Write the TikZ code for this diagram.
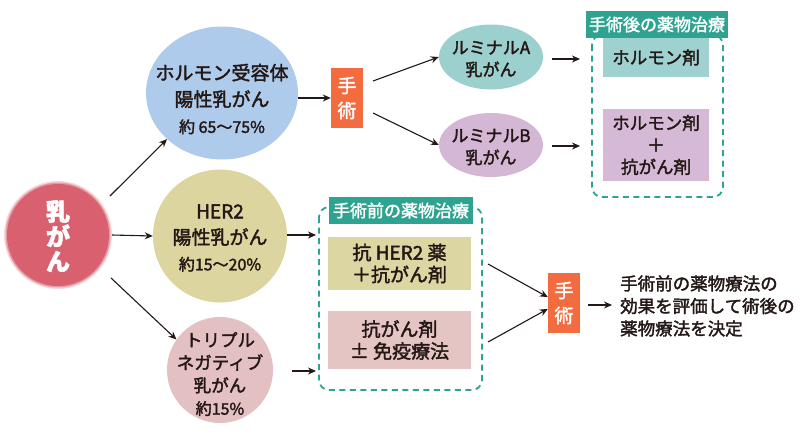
\documentclass[tikz,border=0pt]{standalone}
\usepackage{fontspec}
\setmainfont{Noto Sans CJK JP}[FakeBold=2]
\usetikzlibrary{arrows.meta,shapes.geometric}
\definecolor{ink}{HTML}{231815}
\definecolor{cred}{HTML}{D9606F}
\definecolor{cblue}{HTML}{AFCBEB}
\definecolor{ckhaki}{HTML}{DCD5A0}
\definecolor{cpink}{HTML}{E3C0C1}
\definecolor{clumA}{HTML}{9CD0CF}
\definecolor{clumB}{HTML}{D4B6D5}
\definecolor{corange}{HTML}{F26C3F}
\definecolor{cteal}{HTML}{2FA391}
\definecolor{bkhaki}{HTML}{DCD6A3}
\definecolor{bpink}{HTML}{E5C4C4}
\definecolor{bteal}{HTML}{9FD1D0}
\definecolor{bpurple}{HTML}{D6B9D7}
\tikzset{
  ell/.style={ellipse, inner sep=0pt},
  txt/.style={align=center, text=ink, inner sep=0pt},
  opbox/.style={fill=corange, text=white, align=center, minimum width=32pt, inner sep=0pt, font=\fontsize{19}{25}\selectfont},
  rbox/.style={rectangle, inner sep=0pt, align=center, text=ink},
  lbl/.style={fill=cteal, text=white, inner sep=0pt, font=\fontsize{17}{20}\selectfont},
  dbox/.style={draw=cteal, line width=1.8pt, dash pattern=on 6pt off 4.5pt, rounded corners=10pt},
  arr/.style={draw=ink, line width=1.1pt, -{Stealth[length=8pt,width=7pt]}},
}
\begin{document}
\begin{tikzpicture}[x=1pt,y=-1pt]
\useasboundingbox (0,0) rectangle (800,442);
\fill[white] (0,0) rectangle (800,442);

% 乳がん with soft edge
\fill[cred, opacity=0.25] (58,235) circle (54);
\fill[cred, opacity=0.5] (58,235) circle (52.5);
\node[circle, fill=cred, minimum size=102pt, inner sep=0pt] (bc) at (58,235) {};
\node[txt, text=white, font=\fontsize{24}{25}\selectfont\bfseries] (bct) at (58,236) {乳\\が\\ん};

% three subtype circles
\node[ell, fill=cblue, minimum width=152pt, minimum height=133pt] (hr) at (222,93) {};
\node[txt, font=\fontsize{19}{26.5}\selectfont] (hrt) at (222,99) {ホルモン受容体\\陽性乳がん\\{\fontsize{16}{26.5}\selectfont 約 65〜75\%}};

\node[ell, fill=ckhaki, minimum width=134pt, minimum height=133pt] (her) at (220,236) {};
\node[txt, font=\fontsize{19}{26}\selectfont] (hert) at (220,238) {HER2\\陽性乳がん\\{\fontsize{16}{24}\selectfont 約15〜20\%}};

\node[circle, fill=cpink, minimum size=106pt, inner sep=0pt] (tn) at (220,370) {};
\node[txt, font=\fontsize{17.5}{22.7}\selectfont] (tnt) at (220,374) {トリプル\\ネガティブ\\乳がん\\{\fontsize{16}{22.7}\selectfont 約15\%}};

% arrows from 乳がん
\coordinate (a1s) at (110,196);
\coordinate (a2s) at (112,235);
\coordinate (a3s) at (111,278);
\draw[arr] (a1s) -- (hr.220);
\draw[arr] (a2s) -- (her.west);
\draw[arr] (a3s) -- (tn.145);

% upper branch
\node[opbox, minimum height=60pt] (op1) at (347,98) {手\\術};
\draw[arr] (hr.east |- op1.west) -- (op1.west);

\node[ell, fill=clumA, minimum width=104pt, minimum height=65pt] (la) at (491,57) {};
\node[txt, font=\fontsize{17}{22}\selectfont] (lat) at (491,59) {ルミナルA\\乳がん};
\node[ell, fill=clumB, minimum width=104pt, minimum height=64pt] (lb) at (491,145) {};
\node[txt, font=\fontsize{17}{22}\selectfont] (lbt) at (491,147) {ルミナルB\\乳がん};

\coordinate (o1a) at (373,81);
\coordinate (o1b) at (373,113);
\draw[arr] (o1a) -- (la.west);
\draw[arr] (o1b) -- (lb.west);

% post-op dashed box
\draw[dbox] (592,35) rectangle (723,197);
\node[lbl, minimum width=142pt, minimum height=27pt] (postl) at (657,24.5) {手術後の薬物治療};
\node[rbox, fill=bteal, minimum width=106pt, minimum height=39pt, font=\fontsize{17.5}{22}\selectfont] (hb) at (656,57.5) {ホルモン剤};
\node[rbox, fill=bpurple, minimum width=106pt, minimum height=72pt, font=\fontsize{17.5}{22}\selectfont] (hcb) at (656,145) {ホルモン剤\\＋\\抗がん剤};
\coordinate (pa1) at (552,59);
\coordinate (pa2) at (580,59);
\coordinate (pb1) at (552,146);
\coordinate (pb2) at (580,146);
\draw[arr] (pa1) -- (pa2);
\draw[arr] (pb1) -- (pb2);

% pre-op dashed box
\draw[dbox] (319,207) rectangle (482,390);
\node[lbl, minimum width=144pt, minimum height=27pt] (prel) at (401,210.5) {手術前の薬物治療};
\node[rbox, fill=bkhaki, minimum width=143pt, minimum height=53pt, font=\fontsize{19}{22}\selectfont] (hb2) at (399.5,263.5) {抗 HER2 薬\\＋抗がん剤};
\node[rbox, fill=bpink, minimum width=143pt, minimum height=58pt, font=\fontsize{19}{22}\selectfont] (cb2) at (399.5,340) {抗がん剤\\± 免疫療法};
\coordinate (ma1) at (316,235);
\coordinate (mb0) at (292,371);
\coordinate (ma2) at (316,371);
\draw[arr] (her.east |- ma1) -- (ma1);
\draw[arr] (mb0) -- (ma2);

% second operation
\node[opbox, minimum height=60pt] (op2) at (564,303) {手\\術};
\coordinate (h2s) at (488,264);
\coordinate (c2s) at (488,342);
\draw[arr] (h2s) -- (op2.160);
\draw[arr] (c2s) -- (op2.200);
\coordinate (op2e) at (588,305);
\coordinate (fin) at (612,305);
\draw[arr] (op2e) -- (fin);
\node[txt, align=left, anchor=west, font=\fontsize{17.5}{22.5}\selectfont] (res) at (620,306) {手術前の薬物療法の\\効果を評価して術後の\\薬物療法を決定};
\end{tikzpicture}
\end{document}
